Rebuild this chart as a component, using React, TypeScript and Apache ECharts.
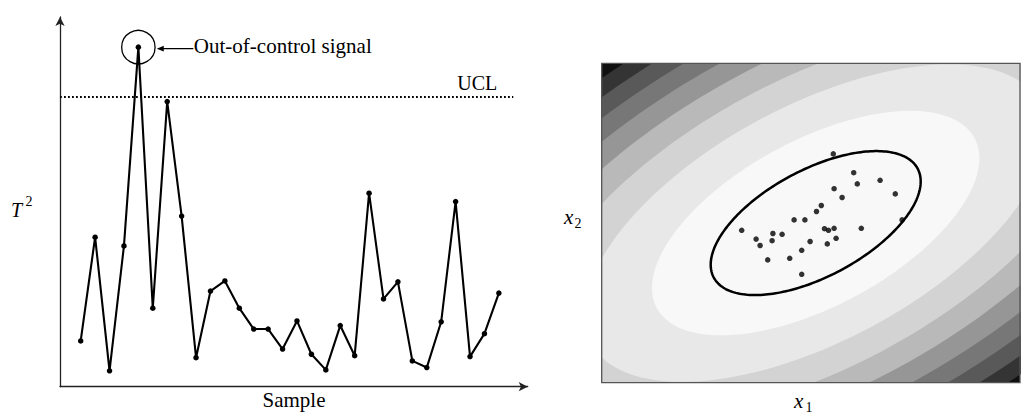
import React, { useEffect, useRef } from "react";
import * as echarts from "echarts";

// ---- Left panel: T^2 control chart ----
const t2Values = [
  1.58, 5.16, 0.55, 4.86, 11.72, 2.71, 9.84, 5.89, 1.0, 3.3,
  3.65, 2.71, 1.99, 1.99, 1.3, 2.27, 1.12, 0.58, 2.11, 1.07,
  6.68, 3.03, 3.62, 0.89, 0.66, 2.24, 6.39, 1.04, 1.83, 3.23,
];
const uclValue = 10;
const uclLabel = "UCL";
const signalLabel = "Out-of-control signal";
const xAxisTitle = "Sample";

// ---- Right panel: bivariate observations and contours ----
const x1Obs = [
  0.44, 0.95, 1.61, 1.04, 1.99, 0.46, 0.66, 0.14, 0.02, 2.16,
  -0.54, -0.27, -1.85, 0.22, 0.32, 0.46, 1.14, -1.07, -0.84, -1.49,
  -1.09, 0.51, -0.14, -1.39, 0.29, -0.35, -0.65, -1.2, -0.35,
];
const x2Obs = [
  1.73, 1.26, 1.07, 0.98, 0.73, 0.86, 0.64, 0.44, 0.29, 0.08,
  0.08, 0.08, -0.18, -0.14, -0.18, -0.13, -0.13, -0.26, -0.28, -0.4,
  -0.44, -0.38, -0.46, -0.56, -0.52, -0.68, -0.88, -0.92, -1.28,
];
const meanVec = [0, 0];
const covMatrix = [
  [6.89, 2.73],
  [2.73, 3.24],
];
const uclEllipseLevel = 1;
const contourStep = 2.43;
const bandColors = [
  "#f8f8f8", "#e8e8e8", "#d3d3d3", "#b9b9b9", "#969696",
  "#777777", "#595959", "#343434", "#101010",
];

const l11 = Math.sqrt(covMatrix[0][0]);
const l21 = covMatrix[1][0] / l11;
const l22 = Math.sqrt(covMatrix[1][1] - l21 * l21);

function ellipsePoints(d2: number, api: any) {
  const r = Math.sqrt(d2);
  const pts: number[][] = [];
  const n = 240;
  for (let i = 0; i < n; i++) {
    const t = (i / n) * Math.PI * 2;
    const u = r * Math.cos(t);
    const v = r * Math.sin(t);
    pts.push(api.coord([meanVec[0] + l11 * u, meanVec[1] + l21 * u + l22 * v]));
  }
  return pts;
}

const serif = "'Liberation Serif', 'DejaVu Serif', serif";

export default function App() {
  const ref = useRef<HTMLDivElement>(null);
  useEffect(() => {
    if (!ref.current) return;
    const chart = echarts.init(ref.current, undefined, { renderer: "svg" });
    const axisLineStyle = { color: "#222", width: 1.3 };
    const option: any = {
      animation: false,
      backgroundColor: "#ffffff",
      grid: [
        { left: 60, top: 17, width: 467.7, height: 369.7 },
        { left: 601.7, top: 63.3, width: 418.3, height: 319.4 },
      ],
      xAxis: [
        {
          gridIndex: 0,
          type: "value",
          min: -0.435,
          max: 32.0,
          axisLine: { show: true, onZero: false, lineStyle: axisLineStyle, symbol: ["none", "arrow"], symbolSize: [7, 9] },
          axisTick: { show: false },
          axisLabel: { show: false },
          splitLine: { show: false },
        },
        { gridIndex: 1, type: "value", min: -5.35, max: 5.1075, show: false },
      ],
      yAxis: [
        {
          gridIndex: 0,
          type: "value",
          min: 0,
          max: 12.76,
          axisLine: { show: true, onZero: false, lineStyle: axisLineStyle, symbol: ["none", "arrow"], symbolSize: [7, 9] },
          axisTick: { show: false },
          axisLabel: { show: false },
          splitLine: { show: false },
        },
        { gridIndex: 1, type: "value", min: -3.99, max: 3.995, show: false },
      ],
      series: [
        {
          type: "line",
          xAxisIndex: 0,
          yAxisIndex: 0,
          data: t2Values.map((v, i) => [i + 1, v]),
          symbol: "circle",
          symbolSize: 5.5,
          lineStyle: { color: "#000", width: 2.1 },
          itemStyle: { color: "#000" },
          silent: true,
          markLine: {
            silent: true,
            symbol: ["none", "none"],
            label: { show: false },
            lineStyle: { color: "#000", width: 1.8, type: [1.8, 2.2] },
            data: [[{ coord: [-0.435, uclValue] }, { coord: [31, uclValue] }]],
          },
          z: 3,
        },
        {
          type: "custom",
          xAxisIndex: 1,
          yAxisIndex: 1,
          clip: true,
          silent: true,
          data: bandColors.map((_, i) => [bandColors.length - 1 - i]),
          renderItem: (params: any, api: any) => {
            const k = api.value(0);
            if (k === bandColors.length - 1) {
              const cs = params.coordSys;
              return {
                type: "rect",
                shape: { x: cs.x, y: cs.y, width: cs.width, height: cs.height },
                style: { fill: bandColors[k] },
              };
            }
            return {
              type: "polygon",
              shape: { points: ellipsePoints((k + 1) * contourStep, api) },
              style: { fill: bandColors[k] },
            };
          },
          z: 1,
        },
        {
          type: "custom",
          xAxisIndex: 1,
          yAxisIndex: 1,
          clip: true,
          silent: true,
          data: [[uclEllipseLevel]],
          renderItem: (params: any, api: any) => ({
            type: "polygon",
            shape: { points: ellipsePoints(api.value(0), api) },
            style: { fill: "none", stroke: "#000", lineWidth: 2.5 },
          }),
          z: 4,
        },
        {
          type: "scatter",
          xAxisIndex: 1,
          yAxisIndex: 1,
          data: x1Obs.map((x, i) => [x, x2Obs[i]]),
          symbol: "circle",
          symbolSize: 5.5,
          itemStyle: { color: "#000" },
          silent: true,
          z: 5,
        },
        {
          type: "custom",
          xAxisIndex: 1,
          yAxisIndex: 1,
          clip: false,
          silent: true,
          data: [[0]],
          renderItem: (params: any) => {
            const cs = params.coordSys;
            return {
              type: "rect",
              shape: { x: cs.x, y: cs.y, width: cs.width, height: cs.height },
              style: { fill: "none", stroke: "#555", lineWidth: 1.3 },
            };
          },
          z: 6,
        },
      ],
    };
    chart.setOption(option);

    const maxIdx = t2Values.indexOf(Math.max(...t2Values));
    const p = chart.convertToPixel({ gridIndex: 0 }, [maxIdx + 1, t2Values[maxIdx]]) as number[];
    const uclPx = chart.convertToPixel({ gridIndex: 0 }, [31, uclValue]) as number[];
    const circleR = 16.7;
    const tipX = p[0] + circleR + 1.7;
    const tailX = tipX + 36.6;
    const arrowY = p[1] + 1.5;

    const textStyle = (text: string, x: number, y: number, size: number, extra: any = {}) => ({
      type: "text",
      x,
      y,
      silent: true,
      style: {
        text,
        fontSize: size,
        fontFamily: serif,
        fill: "#000",
        align: extra.align || "left",
        verticalAlign: "middle",
        fontStyle: extra.fontStyle || "normal",
      },
    });

    chart.setOption({
      graphic: [
        {
          type: "circle",
          silent: true,
          shape: { cx: p[0], cy: p[1], r: circleR },
          style: { fill: "none", stroke: "#000", lineWidth: 1.3 },
        },
        {
          type: "line",
          silent: true,
          shape: { x1: tipX + 5, y1: arrowY, x2: tailX, y2: arrowY },
          style: { stroke: "#000", lineWidth: 1.2 },
        },
        {
          type: "polygon",
          silent: true,
          shape: { points: [[tipX, arrowY], [tipX + 7, arrowY - 2.8], [tipX + 7, arrowY + 2.8]] },
          style: { fill: "#000" },
        },
        textStyle(signalLabel, tailX + 0.5, 46, 21),
        textStyle(uclLabel, uclPx[0] - 56, 83, 20),
        textStyle(xAxisTitle, 294, 400, 21, { align: "center" }),
        textStyle("T", 11, 210, 20, { fontStyle: "italic" }),
        textStyle("2", 25.5, 201, 14),
        textStyle("x", 564, 217, 21, { fontStyle: "italic" }),
        textStyle("2", 574.5, 223, 14),
        textStyle("x", 794, 401, 21, { fontStyle: "italic" }),
        textStyle("1", 805.5, 407, 14),
      ],
    });

    return () => chart.dispose();
  }, []);
  return (
    <div
      ref={ref}
      style={{ position: "fixed", left: 0, top: 0, width: 1021, height: 414, background: "#fff" }}
    />
  );
}
